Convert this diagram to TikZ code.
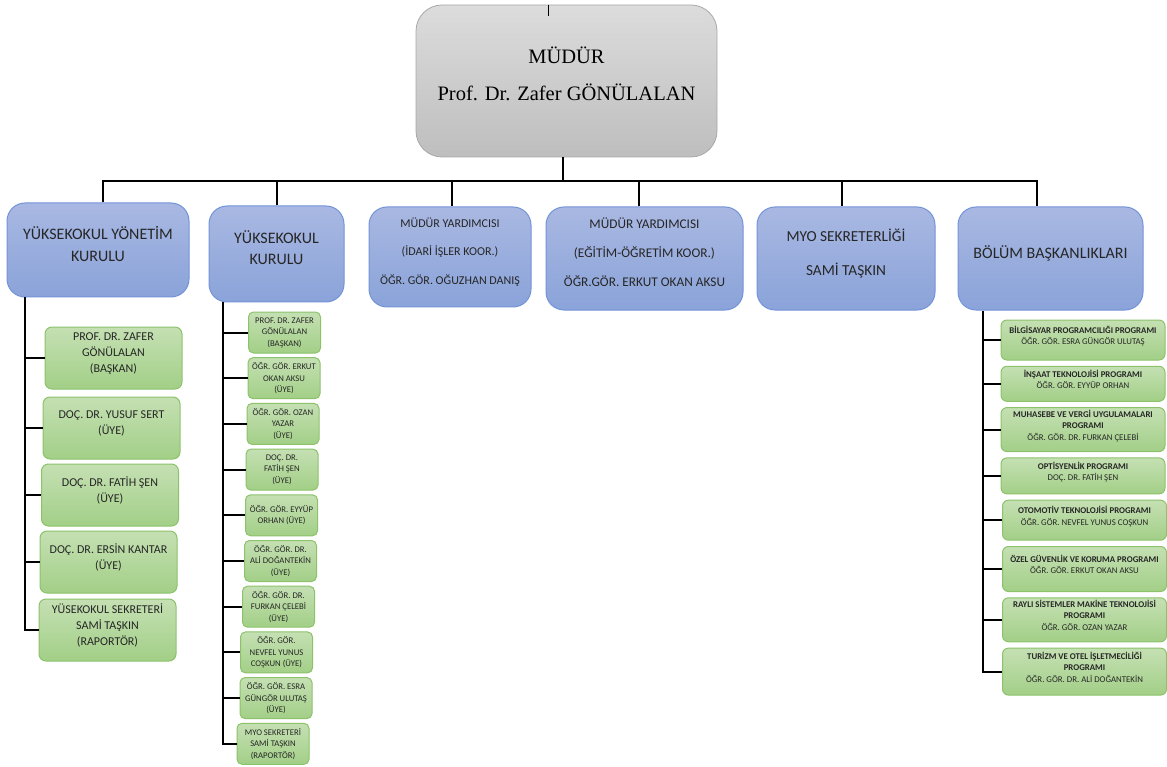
\documentclass[tikz,border=0pt]{standalone}
\usepackage{fontspec}
\setmainfont{Carlito}
\newfontfamily\headserif{Liberation Serif}
\usetikzlibrary{positioning}

\definecolor{grayTop}{HTML}{DCDCDC}
\definecolor{grayBot}{HTML}{BEBEBE}
\definecolor{grayLine}{HTML}{A8A8A8}
\definecolor{blueTop}{HTML}{A9B8E2}
\definecolor{blueBot}{HTML}{8AA3D9}
\definecolor{blueLine}{HTML}{7393D8}
\definecolor{greenTop}{HTML}{C5E0B3}
\definecolor{greenBot}{HTML}{A2CF87}
\definecolor{greenLine}{HTML}{8CC26A}
\definecolor{txt}{HTML}{262626}

\newcommand{\textlift}[1]{\rule[-#1]{0pt}{#1}}

\begin{document}
\begin{tikzpicture}[x=1pt, y=-1pt, node distance=6pt,
 topblock/.style = {draw=grayLine, line width=0.8pt, rectangle, rounded corners=26pt, top color=grayTop, bottom color=grayBot, minimum width=301pt, minimum height=152pt, align=center, font=\headserif\fontsize{20.5}{37}\selectfont, execute at end node=\textlift{15pt}},
 block/.style = {draw=blueLine, line width=1pt, rectangle, rounded corners=18pt, top color=blueTop, bottom color=blueBot, align=center, text=txt, execute at end node=\textlift{12pt}},
 lblock/.style = {draw=greenLine, line width=1pt, rectangle, rounded corners=7pt, top color=greenTop, bottom color=greenBot, minimum width=137pt, minimum height=62pt, align=center, text=txt, inner sep=2pt, font=\fontsize{12}{16}\selectfont, execute at end node=\textlift{11pt}},
 sblock/.style = {draw=greenLine, line width=1pt, rectangle, rounded corners=5pt, top color=greenTop, bottom color=greenBot, minimum width=72pt, minimum height=41pt, align=center, text=txt, inner sep=1pt, font=\fontsize{8.7}{11.5}\selectfont},
 pblock/.style = {draw=greenLine, line width=1pt, rectangle, rounded corners=6pt, top color=greenTop, bottom color=greenBot, minimum width=164pt, align=center, text=txt, inner sep=1pt, font=\fontsize{8.8}{11.5}\selectfont, execute at end node=\textlift{9pt}},
 conn/.style = {draw, line width=2pt},
                        ]
    \useasboundingbox (0,0) rectangle (1167,767);

    \node [topblock]                    (mudur)    at (566.5,81)   {MÜDÜR\\Prof. Dr. Zafer GÖNÜLALAN};
    \node [block, minimum width=182pt, minimum height=94pt, font=\fontsize{16}{22}\selectfont]
                                        (yonetim)  at (98,250)     {YÜKSEKOKUL YÖNETİM\\KURULU};
    \node [block, minimum width=135pt, minimum height=96pt, font=\fontsize{16}{21}\selectfont]
                                        (kurul)    at (276.5,254)  {YÜKSEKOKUL\\KURULU};
    \node [block, minimum width=162pt, minimum height=100pt, font=\fontsize{12}{28.5}\selectfont]
                                        (idari)    at (450,257)    {MÜDÜR YARDIMCISI\\(İDARİ İŞLER KOOR.)\\ÖĞR. GÖR. OĞUZHAN DANIŞ};
    \node [block, minimum width=197pt, minimum height=103pt, font=\fontsize{13.3}{29}\selectfont]
                                        (egitim)   at (644.5,258.5) {MÜDÜR YARDIMCISI\\(EĞİTİM-ÖĞRETİM KOOR.)\\ÖĞR.GÖR. ERKUT OKAN AKSU};
    \node [block, minimum width=178pt, minimum height=103pt, font=\fontsize{15.3}{34}\selectfont]
                                        (sekreter) at (846,258.5)  {MYO SEKRETERLİĞİ\\SAMİ TAŞKIN};
    \node [block, minimum width=185pt, minimum height=103pt, font=\fontsize{16}{20}\selectfont]
                                        (bolum)    at (1050.5,258.5) {BÖLÜM BAŞKANLIKLARI};

%% yonetim kurulu
    \node [lblock]                           (yk1) at (113.5,358) {PROF. DR. ZAFER\\GÖNÜLALAN\\(BAŞKAN)};
    \node [lblock, below=7pt of yk1, xshift=-2pt]   (yk2) {DOÇ. DR. YUSUF SERT\\(ÜYE)};
    \node [lblock, below=4pt of yk2, xshift=-1.5pt] (yk3) {DOÇ. DR. FATİH ŞEN\\(ÜYE)};
    \node [lblock, below=4pt of yk3, xshift=-1.5pt] (yk4) {DOÇ. DR. ERSİN KANTAR\\(ÜYE)};
    \node [lblock, below=5pt of yk4, xshift=-1pt]   (yk5) {YÜSEKOKUL SEKRETERİ\\SAMİ TAŞKIN\\(RAPORTÖR)};

%% yuksekokul kurulu
    \node [sblock]                                   (kk1)  at (284.5,332.5) {PROF. DR. ZAFER\\GÖNÜLALAN\\(BAŞKAN)};
    \node [sblock, below=3.7pt of kk1, xshift=-0.5pt] (kk2)  {ÖĞR. GÖR. ERKUT\\OKAN AKSU\\(ÜYE)};
    \node [sblock, below=3.7pt of kk2, xshift=-1pt]   (kk3)  {ÖĞR. GÖR. OZAN\\YAZAR\\(ÜYE)};
    \node [sblock, below=3.7pt of kk3, xshift=-1pt]   (kk4)  {DOÇ. DR.\\FATİH ŞEN\\(ÜYE)};
    \node [sblock, below=3.7pt of kk4, xshift=-0.5pt] (kk5)  {ÖĞR. GÖR. EYYÜP\\ORHAN (ÜYE)};
    \node [sblock, below=3.7pt of kk5, xshift=-1pt]   (kk6)  {ÖĞR. GÖR. DR.\\ALİ DOĞANTEKİN\\(ÜYE)};
    \node [sblock, below=3.7pt of kk6, xshift=-2pt]   (kk7)  {ÖĞR. GÖR. DR.\\FURKAN ÇELEBİ\\(ÜYE)};
    \node [sblock, below=3.7pt of kk7, xshift=-2pt]   (kk8)  {ÖĞR. GÖR.\\NEVFEL YUNUS\\COŞKUN (ÜYE)};
    \node [sblock, below=3.7pt of kk8, xshift=-0.5pt] (kk9)  {ÖĞR. GÖR. ESRA\\GÜNGÖR ULUTAŞ\\(ÜYE)};
    \node [sblock, below=3.7pt of kk9, xshift=-3pt]   (kk10) {MYO SEKRETERİ\\SAMİ TAŞKIN\\(RAPORTÖR)};

%% programlar
    \node [pblock, minimum height=40pt]                  (pr1) at (1083,340) {\textbf{BİLGİSAYAR PROGRAMCILIĞI PROGRAMI}\\ÖĞR. GÖR. ESRA GÜNGÖR ULUTAŞ};
    \node [pblock, minimum height=35pt, below=5.3pt of pr1] (pr2) {\textbf{İNŞAAT TEKNOLOJİSİ PROGRAMI}\\ÖĞR. GÖR. EYYÜP ORHAN};
    \node [pblock, minimum height=44pt, below=5.3pt of pr2] (pr3) {\textbf{MUHASEBE VE VERGİ UYGULAMALARI}\\\textbf{PROGRAMI}\\ÖĞR. GÖR. DR. FURKAN ÇELEBİ};
    \node [pblock, minimum height=36pt, below=5.3pt of pr3] (pr4) {\textbf{OPTİSYENLİK PROGRAMI}\\DOÇ. DR. FATİH ŞEN};
    \node [pblock, minimum height=40pt, below=5.3pt of pr4, xshift=1.5pt] (pr5) {\textbf{OTOMOTİV TEKNOLOJİSİ PROGRAMI}\\ÖĞR. GÖR. NEVFEL YUNUS COŞKUN};
    \node [pblock, minimum height=45pt, below=5.3pt of pr5] (pr6) {\textbf{ÖZEL GÜVENLİK VE KORUMA PROGRAMI}\\ÖĞR. GÖR. ERKUT OKAN AKSU};
    \node [pblock, minimum height=44pt, below=5.3pt of pr6] (pr7) {\textbf{RAYLI SİSTEMLER MAKİNE TEKNOLOJİSİ}\\\textbf{PROGRAMI}\\ÖĞR. GÖR. OZAN YAZAR};
    \node [pblock, minimum height=47pt, below=5.3pt of pr7] (pr8) {\textbf{TURİZM VE OTEL İŞLETMECİLİĞİ}\\\textbf{PROGRAMI}\\ÖĞR. GÖR. DR. ALİ DOĞANTEKİN};

%% coordinates
    \coordinate (hub)    at ([xshift=-3.5pt]mudur.south);
    \coordinate (bus)    at ([yshift=-24pt]hub);
    \coordinate (tick)   at ([xshift=-18.5pt]mudur.north);
    \coordinate (d1)     at ([xshift=5pt]yonetim.north);
    \coordinate (d2)     at (kurul.north);
    \coordinate (d3)     at ([xshift=2pt]idari.north);
    \coordinate (d4)     at ([xshift=-5.5pt]egitim.north);
    \coordinate (d5)     at ([xshift=-4pt]sekreter.north);
    \coordinate (d6)     at ([xshift=-13.5pt]bolum.north);
    \coordinate (ltrunk) at ([xshift=18pt]yonetim.south west);
    \coordinate (ktrunk) at ([xshift=14pt]kurul.south west);
    \coordinate (ptrunk) at ([xshift=25pt]bolum.south west);

%% paths
    \draw[line width=0.8pt] (tick) -- ++(0,11);
    \path[conn] (hub)  --  (bus)
                (d1)   |-  (bus) -| (d6)
                (d2)   --  (d2 |- bus)
                (d3)   --  (d3 |- bus)
                (d4)   --  (d4 |- bus)
                (d5)   --  (d5 |- bus)
                (ltrunk) |- (yk5.west)
                (ltrunk |- yk1.west) -- (yk1.west)
                (ltrunk |- yk2.west) -- (yk2.west)
                (ltrunk |- yk3.west) -- (yk3.west)
                (ltrunk |- yk4.west) -- (yk4.west)
                (ktrunk) |- (kk10.west)
                (ktrunk |- kk1.west) -- (kk1.west)
                (ktrunk |- kk2.west) -- (kk2.west)
                (ktrunk |- kk3.west) -- (kk3.west)
                (ktrunk |- kk4.west) -- (kk4.west)
                (ktrunk |- kk5.west) -- (kk5.west)
                (ktrunk |- kk6.west) -- (kk6.west)
                (ktrunk |- kk7.west) -- (kk7.west)
                (ktrunk |- kk8.west) -- (kk8.west)
                (ktrunk |- kk9.west) -- (kk9.west)
                (ptrunk) |- (pr8.west)
                (ptrunk |- pr1.west) -- (pr1.west)
                (ptrunk |- pr2.west) -- (pr2.west)
                (ptrunk |- pr3.west) -- (pr3.west)
                (ptrunk |- pr4.west) -- (pr4.west)
                (ptrunk |- pr5.west) -- (pr5.west)
                (ptrunk |- pr6.west) -- (pr6.west)
                (ptrunk |- pr7.west) -- (pr7.west)
                ;
    \end{tikzpicture}
\end{document}
